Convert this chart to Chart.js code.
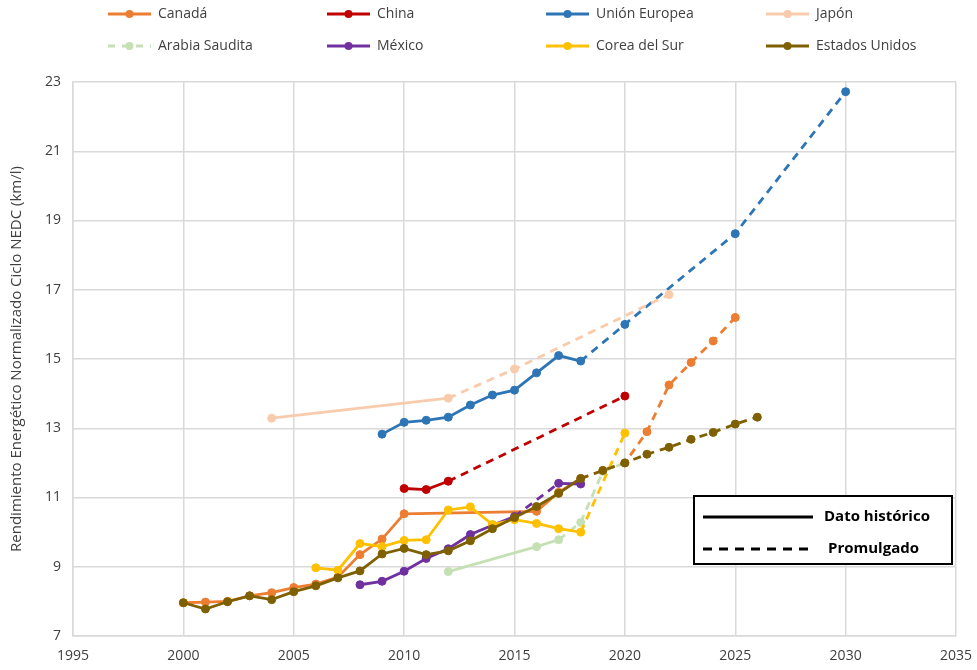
<!DOCTYPE html>
<html>
<head>
<meta charset="utf-8">
<script src="https://cdn.jsdelivr.net/npm/chart.js@4.4.1/dist/chart.umd.min.js"></script>
<style>
  html, body { margin: 0; padding: 0; background: #fff; }
  #wrap { width: 977px; height: 670px; }
</style>
</head>
<body>
<div id="wrap"><canvas id="effChart"></canvas></div>
<script>
// years / values per country
const canadaYears = [2000, 2001, 2002, 2003, 2004, 2005, 2006, 2007, 2008, 2009, 2010, 2016, 2017, 2018, 2019, 2020, 2021, 2022, 2023, 2024, 2025];
const canadaValues = [7.96, 7.98, 8.0, 8.16, 8.25, 8.4, 8.5, 8.7, 9.35, 9.8, 10.53, 10.6, 11.15, 11.55, 11.78, 12.0, 12.9, 14.25, 14.9, 15.52, 16.2];

const chinaYears = [2010, 2011, 2012, 2020];
const chinaValues = [11.26, 11.23, 11.47, 13.93];

const euYears = [2009, 2010, 2011, 2012, 2013, 2014, 2015, 2016, 2017, 2018, 2020, 2025, 2030];
const euValues = [12.83, 13.17, 13.23, 13.32, 13.67, 13.96, 14.1, 14.6, 15.1, 14.94, 16.0, 18.62, 22.72];

const japanYears = [2004, 2012, 2015, 2022];
const japanValues = [13.29, 13.87, 14.71, 16.86];

const saudiYears = [2012, 2016, 2017, 2018, 2019, 2020];
const saudiValues = [8.86, 9.58, 9.78, 10.28, 11.75, 12.0];

const mexicoYears = [2008, 2009, 2010, 2011, 2012, 2013, 2014, 2015, 2017, 2018];
const mexicoValues = [8.48, 8.58, 8.87, 9.24, 9.52, 9.93, 10.2, 10.45, 11.41, 11.39];

const koreaYears = [2006, 2007, 2008, 2009, 2010, 2011, 2012, 2013, 2014, 2015, 2016, 2017, 2018, 2020];
const koreaValues = [8.97, 8.9, 9.67, 9.58, 9.76, 9.78, 10.64, 10.73, 10.22, 10.36, 10.25, 10.1, 10.0, 12.86];

const usYears = [2000, 2001, 2002, 2003, 2004, 2005, 2006, 2007, 2008, 2009, 2010, 2011, 2012, 2013, 2014, 2015, 2016, 2017, 2018, 2019, 2020, 2021, 2022, 2023, 2024, 2025, 2026];
const usValues = [7.96, 7.78, 7.99, 8.16, 8.05, 8.28, 8.45, 8.68, 8.88, 9.37, 9.53, 9.35, 9.46, 9.75, 10.1, 10.42, 10.74, 11.12, 11.55, 11.78, 12.0, 12.25, 12.45, 12.68, 12.88, 13.12, 13.32];

// range of years drawn dashed (promulgated targets)
const dashRanges = [[2018, 9999], [2012, 9999], [2018, 9999], [2012, 9999], [2017, 9999], [2015, 2017], [2018, 9999], [2018, 9999]];

const names = ['Canadá', 'China', 'Unión Europea', 'Japón', 'Arabia Saudita', 'México', 'Corea del Sur', 'Estados Unidos'];
const colors = ['#ED7D31', '#C00000', '#2E75B6', '#F8CBAD', '#C5E0B4', '#7030A0', '#FFC000', '#7F6000'];
const allYears = [canadaYears, chinaYears, euYears, japanYears, saudiYears, mexicoYears, koreaYears, usYears];
const allValues = [canadaValues, chinaValues, euValues, japanValues, saudiValues, mexicoValues, koreaValues, usValues];

const xTicks = [1995, 2000, 2005, 2010, 2015, 2020, 2025, 2030, 2035];
const yTicks = [7, 9, 11, 13, 15, 17, 19, 21, 23];

const FONT = "'Open Sans', 'Noto Sans', sans-serif";
const DASH = [8, 6];

const datasets = names.map(function(name, i) {
    const range = dashRanges[i];
    return {
        label: name,
        data: allYears[i].map((y, k) => ({ x: y, y: allValues[i][k] })),
        borderColor: colors[i],
        backgroundColor: colors[i],
        pointBackgroundColor: colors[i],
        pointBorderColor: colors[i],
        pointRadius: 4,
        pointBorderWidth: 1,
        borderWidth: 2.8,
        order: names.length - i,
        segment: {
            borderDash: ctx => (ctx.p0.parsed.x >= range[0] && ctx.p1.parsed.x <= range[1]) ? DASH : undefined
        }
    };
});

// legend grid at top + the small solid/dashed key box
const legendPlugin = {
    id: 'gridLegend',
    afterDraw(chart) {
        const c = chart.ctx;
        const colX = [108, 327, 546, 766];
        const rowY = [14, 46];
        c.save();
        c.font = '14px ' + FONT;
        c.textBaseline = 'middle';
        names.forEach(function(name, i) {
            const x = colX[i % 4], y = rowY[Math.floor(i / 4)];
            c.strokeStyle = colors[i];
            c.fillStyle = colors[i];
            c.lineWidth = 3;
            c.setLineDash(i === 4 ? [7, 7] : []);
            c.beginPath();
            c.moveTo(x, y);
            c.lineTo(x + 43, y);
            c.stroke();
            c.setLineDash([]);
            c.beginPath();
            c.arc(x + 21.5, y, 4, 0, Math.PI * 2);
            c.fill();
            c.fillStyle = '#404040';
            c.fillText(name, x + 50, y);
        });

        // key box
        c.fillStyle = '#fff';
        c.fillRect(694, 496, 258, 68);
        c.strokeStyle = '#000';
        c.lineWidth = 2;
        c.strokeRect(694, 496, 258, 68);
        c.lineWidth = 3;
        c.beginPath();
        c.moveTo(703, 517);
        c.lineTo(813, 517);
        c.stroke();
        c.setLineDash([9, 7]);
        c.beginPath();
        c.moveTo(703, 549);
        c.lineTo(815, 549);
        c.stroke();
        c.setLineDash([]);
        c.fillStyle = '#000';
        c.font = 'bold 15px ' + FONT;
        c.fillText('Dato histórico', 824, 517);
        c.fillText('Promulgado', 828, 549);
        c.restore();
    }
};

const ctx = document.getElementById('effChart').getContext('2d');
new Chart(ctx, {
    type: 'line',
    data: { datasets: datasets },
    plugins: [legendPlugin],
    options: {
        responsive: true,
        maintainAspectRatio: false,
        animation: false,
        layout: { padding: { top: 82, right: 21, left: 0, bottom: 0 } },
        plugins: {
            legend: { display: false },
            tooltip: { enabled: false }
        },
        scales: {
            x: {
                type: 'linear',
                min: 1995,
                max: 2035,
                afterBuildTicks: axis => { axis.ticks = xTicks.map(v => ({ value: v })); },
                afterFit: axis => {
                    axis.height = 34;
                    axis.paddingLeft = 0;
                    axis.paddingRight = 0;
                },
                grid: { color: '#D9D9D9', lineWidth: 1.5, drawTicks: false },
                border: { color: '#D9D9D9', width: 1.5 },
                ticks: {
                    padding: 12,
                    color: '#404040',
                    font: { family: FONT, size: 14 },
                    callback: v => String(v)
                }
            },
            y: {
                min: 7,
                max: 23,
                afterBuildTicks: axis => { axis.ticks = yTicks.map(v => ({ value: v })); },
                afterFit: axis => { axis.width = 73; },
                grid: { color: '#D9D9D9', lineWidth: 1.5, drawTicks: false },
                border: { color: '#D9D9D9', width: 1.5 },
                ticks: {
                    padding: 12,
                    color: '#404040',
                    font: { family: FONT, size: 14 }
                },
                title: {
                    display: true,
                    text: 'Rendimiento Energético Normalizado Ciclo NEDC (km/l)',
                    color: '#404040',
                    font: { family: FONT, size: 15 },
                    padding: { top: 8, bottom: 0 }
                }
            }
        }
    }
});
</script>
</body>
</html>
